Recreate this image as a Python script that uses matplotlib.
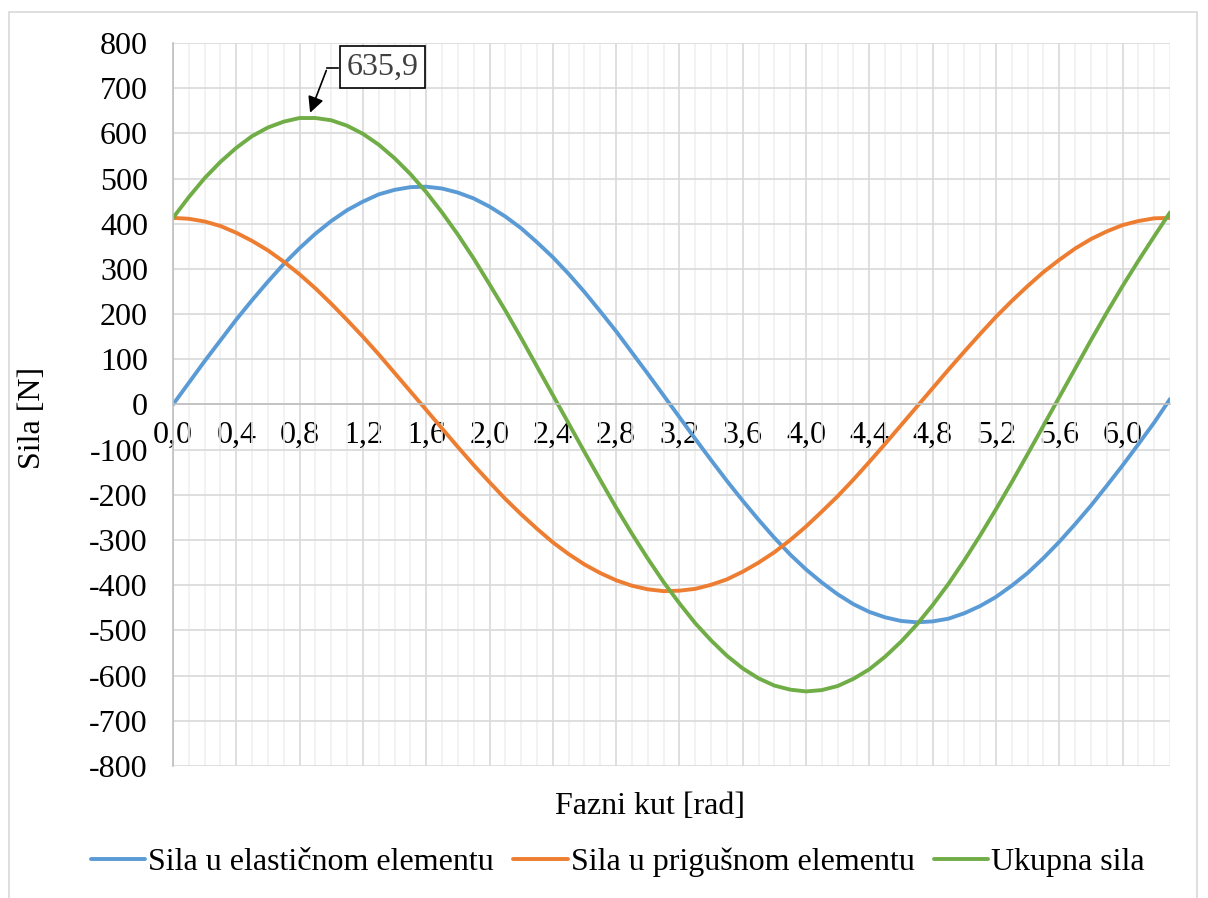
import matplotlib
matplotlib.use("Agg")
import matplotlib.pyplot as plt
from matplotlib.patches import Rectangle
from matplotlib.ticker import MultipleLocator, FuncFormatter

plt.rcParams['font.family'] = ['Liberation Serif', 'DejaVu Serif']

# phase angle [rad] and forces [N]
kut = [0.0, 0.1, 0.2, 0.3, 0.4, 0.5, 0.6, 0.7, 0.8, 0.9, 1.0, 1.1, 1.2, 1.3, 1.4, 1.5,
       1.6, 1.7, 1.8, 1.9, 2.0, 2.1, 2.2, 2.3, 2.4, 2.5, 2.6, 2.7, 2.8, 2.9, 3.0, 3.1,
       3.2, 3.3, 3.4, 3.5, 3.6, 3.7, 3.8, 3.9, 4.0, 4.1, 4.2, 4.3, 4.4, 4.5, 4.6, 4.7,
       4.8, 4.9, 5.0, 5.1, 5.2, 5.3, 5.4, 5.5, 5.6, 5.7, 5.8, 5.9, 6.0, 6.1, 6.2, 6.3]
elasticna = [0, 48, 96, 142, 188, 231, 272, 311, 346, 378, 406, 430, 449, 465, 475, 481,
             482, 478, 469, 456, 438, 416, 390, 359, 326, 289, 249, 206, 162, 115, 68, 20,
             -28, -76, -123, -169, -213, -255, -295, -332, -365, -394, -420, -442, -459,
             -471, -479, -482, -480, -474, -462, -446, -426, -401, -373, -340, -304, -265,
             -224, -180, -135, -88, -40, 12]
prigusna = [413, 411, 405, 395, 380, 362, 341, 316, 288, 257, 223, 187, 150, 111, 70, 29,
            -12, -53, -94, -134, -172, -209, -243, -275, -305, -331, -354, -373, -389, -401,
            -409, -413, -412, -408, -399, -387, -370, -350, -327, -300, -270, -237, -203,
            -166, -127, -87, -46, -5, 36, 77, 117, 156, 194, 229, 262, 293, 320, 345, 366,
            383, 397, 406, 412, 413]
ukupna = [413, 459, 501, 537, 568, 594, 613, 626, 634, 634, 629, 617, 599, 575, 545, 510,
          470, 425, 376, 323, 266, 208, 147, 84, 21, -42, -105, -167, -228, -286, -341, -393,
          -440, -484, -522, -556, -584, -606, -622, -631, -635, -632, -623, -607, -586, -558,
          -525, -487, -444, -397, -345, -290, -232, -172, -110, -47, 16, 79, 142, 203, 262,
          318, 372, 425]
nazivi = ['Sila u elastičnom elementu', 'Sila u prigušnom elementu', 'Ukupna sila']
boje = ['#5B9BD5', '#ED7D31', '#70AD47']
vrh_x, vrh_y = 0.86, 635.9

fig = plt.figure(figsize=(12.08, 8.98), dpi=100)
ax = fig.add_axes([173/1208, 1-766/898, (1170-173)/1208, (766-43)/898])

for y, naziv, c in zip([elasticna, prigusna, ukupna], nazivi, boje):
    ax.plot(kut, y, color=c, lw=2.8, label=naziv, solid_capstyle='round',
            solid_joinstyle='round')

ax.set_xlim(0, 6.3)
ax.set_ylim(-800, 800)
ax.xaxis.set_major_locator(MultipleLocator(0.4))
ax.xaxis.set_minor_locator(MultipleLocator(0.1))
ax.yaxis.set_major_locator(MultipleLocator(100))
ax.xaxis.set_major_formatter(FuncFormatter(lambda v, p: f"{v:.1f}".replace('.', ',')))
ax.yaxis.set_major_formatter(FuncFormatter(lambda v, p: f"{int(round(v))}"))

ax.grid(True, which='major', color='#d9d9d9', lw=1.2)
ax.grid(True, which='minor', axis='x', color='#f0f0f0', lw=1.2)
ax.set_axisbelow(True)

for s in ['top', 'right']:
    ax.spines[s].set_visible(False)
ax.spines['bottom'].set_position(('data', 0))
ax.spines['bottom'].set_color('#bfbfbf')
ax.spines['left'].set_color('#bfbfbf')
ax.spines['bottom'].set_linewidth(1.2)
ax.spines['left'].set_linewidth(1.2)
ax.tick_params(which='both', length=0)
ax.tick_params(axis='x', labelsize=23, pad=12)
ax.tick_params(axis='y', labelsize=23, pad=18)

# data label callout
ax.annotate('', xy=(vrh_x, vrh_y + 4), xytext=(0.975, 745),
            arrowprops=dict(arrowstyle='-|>', color='black', lw=1.2, mutation_scale=24))
ax.plot([0.975, 1.04], [745, 745], color='black', lw=1.2)
ax.text(1.325, 747, f"{vrh_y:.1f}".replace('.', ','), fontsize=23, color='#404040',
        ha='center', va='center',
        bbox=dict(boxstyle='square,pad=0.2', fc='white', ec='black', lw=1.2))

fig.text(650/1208, 1-806/898, 'Fazni kut [rad]', fontsize=23, ha='center', va='center')
fig.text(32/1208, 1-418/898, 'Sila [N]', fontsize=23, rotation=90, ha='center', va='center')

fig.legend(loc='center', bbox_to_anchor=(618/1208, 1-862/898), ncol=3, frameon=False,
           fontsize=23, handlelength=1.7, handletextpad=0.1, columnspacing=0.6)

fig.patches.append(Rectangle((9/1208, -0.01), (1197-9)/1208, 1-12/898 + 0.01,
                             transform=fig.transFigure, fill=False, ec='#d9d9d9', lw=1.2))

fig.savefig('out.png', dpi=100)
